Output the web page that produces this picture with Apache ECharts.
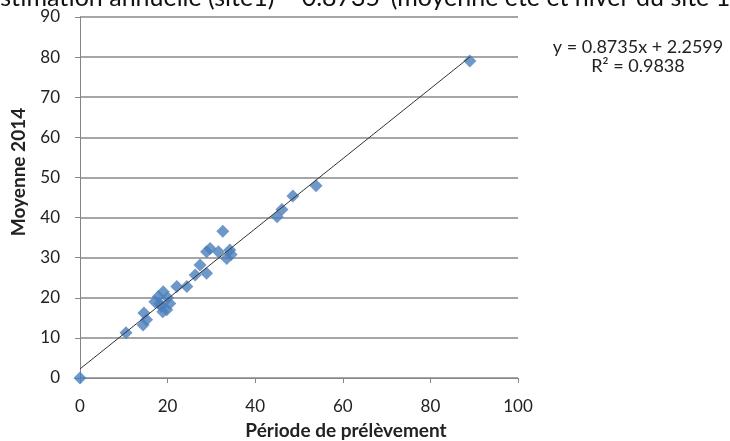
<!DOCTYPE html>
<html>
<head>
<meta charset="utf-8">
<script src="https://cdn.jsdelivr.net/npm/echarts@6/dist/echarts.min.js"></script>
<style>html,body{margin:0;padding:0;background:#fff}#c{width:730px;height:441px}</style>
</head>
<body>
<div id="c"></div>
<script>
// Data
const periodeValues = [0, 10.5, 14.4, 15.2, 14.6, 17.1, 17.9, 18.6, 18.9, 19.0, 19.8, 20.5, 20.0, 18.2, 22.1, 24.4, 26.3, 27.4, 28.9, 28.9, 29.7, 31.6, 32.6, 33.5, 34.2, 34.5, 45.0, 46.1, 48.6, 53.9, 89.0];
const moyenneValues = [0, 11.3, 13.2, 14.5, 16.2, 19.0, 20.3, 17.8, 16.5, 21.5, 17.0, 18.6, 20.0, 18.5, 22.8, 22.8, 25.7, 28.2, 26.1, 31.5, 32.3, 31.5, 36.6, 29.8, 31.9, 30.8, 40.2, 42.0, 45.4, 47.9, 79.0];
const trendCoef = [0.8735, 2.2599];       // slope, intercept
const trendRange = [0, 89];               // x-extent of trend line
const xTicks = [0, 20, 40, 60, 80, 100];
const yTicks = [0, 10, 20, 30, 40, 50, 60, 70, 80, 90];
const titleText = 'Estimation annuelle (site1) = 0.8735*(moyenne été et hiver du site 1)';
const xName = 'Période de prélèvement';
const yName = 'Moyenne 2014';
const eqLines = ['y = 0.8735x + 2.2599', 'R² = 0.9838'];

const pts = periodeValues.map((x, i) => [x, moyenneValues[i]]);
const trend = trendRange.map(x => [x, trendCoef[0] * x + trendCoef[1]]);

const FONT = 'Lato, "Open Sans", sans-serif';
const chart = echarts.init(document.getElementById('c'), null, {renderer: 'canvas'});
chart.setOption({
  animation: false,
  backgroundColor: '#fff',
  grid: {left: 80, right: 212, top: 17, bottom: 63, containLabel: false},
  xAxis: {
    type: 'value', min: xTicks[0], max: xTicks[xTicks.length - 1], interval: 20,
    axisLine: {show: true, lineStyle: {color: '#868686', width: 1}},
    axisTick: {show: true, length: 5, lineStyle: {color: '#868686'}},
    axisLabel: {color: '#222', fontFamily: FONT, fontSize: 17, margin: 20},
    splitLine: {show: false}
  },
  yAxis: {
    type: 'value', min: yTicks[0], max: yTicks[yTicks.length - 1], interval: 10,
    axisLine: {show: true, lineStyle: {color: '#868686', width: 1}},
    axisTick: {show: true, length: 5, lineStyle: {color: '#868686'}},
    axisLabel: {color: '#222', fontFamily: FONT, fontSize: 17, margin: 20},
    splitLine: {show: true, lineStyle: {color: '#a6a6a6', width: 2}}
  },
  series: [
    {
      type: 'line', data: trend, showSymbol: false, symbol: 'none',
      lineStyle: {color: '#333', width: 1}, z: 3, silent: true
    },
    {
      type: 'scatter', data: pts, symbol: 'diamond', symbolSize: 13,
      itemStyle: {color: '#4a7ebb'}, z: 2
    }
  ],
  graphic: [
    {type: 'text', x: -14, y: 10, style: {text: titleText, font: '25px ' + FONT, fill: '#111', textVerticalAlign: 'bottom'}},
    {type: 'text', x: 638, y: 47, style: {text: eqLines[0], font: '18px ' + FONT, fill: '#222', textAlign: 'center', textVerticalAlign: 'middle'}},
    {type: 'text', x: 638, y: 66, style: {text: eqLines[1], font: '18px ' + FONT, fill: '#222', textAlign: 'center', textVerticalAlign: 'middle'}},
    {type: 'text', x: 346, y: 431, style: {text: xName, font: 'bold 19px ' + FONT, fill: '#222', textAlign: 'center', textVerticalAlign: 'middle'}},
    {type: 'text', x: 19, y: 172, rotation: Math.PI / 2, style: {text: yName, font: 'bold 19px ' + FONT, fill: '#222', textAlign: 'center', textVerticalAlign: 'middle'}}
  ]
});
</script>
</body>
</html>
